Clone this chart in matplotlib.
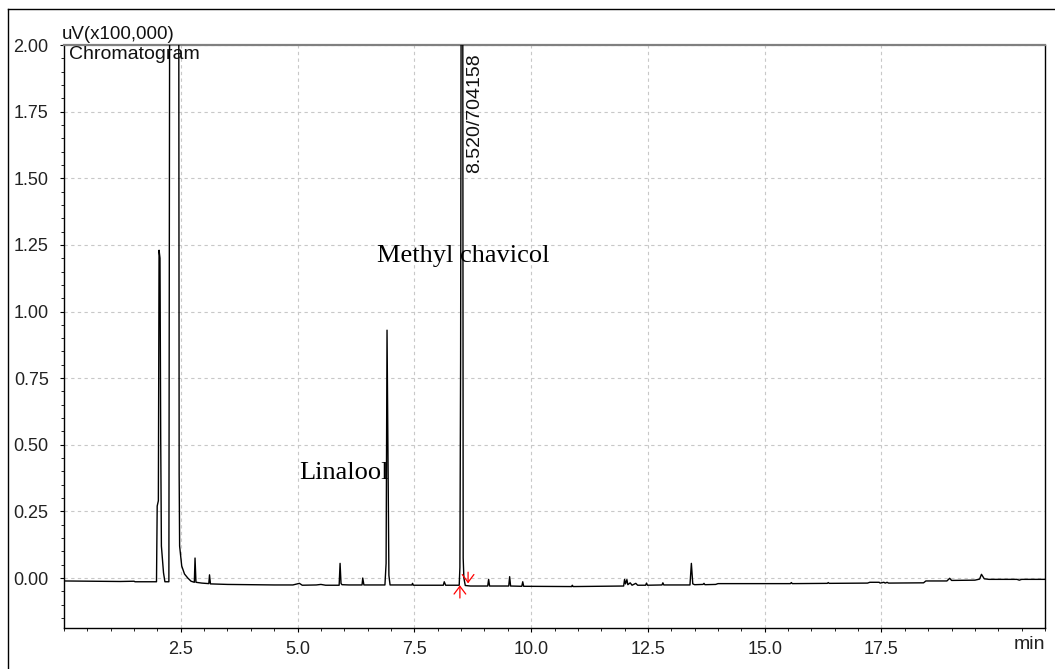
import numpy as np
import matplotlib
matplotlib.use('Agg')
import matplotlib.pyplot as plt
import matplotlib.ticker as mticker
from matplotlib.lines import Line2D

# ── Trace vertices (time in min, signal in uV x 1e5) ──
rt_min = [
    0.00, 0.60, 1.20, 1.50, 1.52, 1.98,
    1.995, 2.02, 2.035, 2.055, 2.07, 2.085, 2.10, 2.13, 2.16,
    2.245, 2.265, 2.455, 2.465, 2.475, 2.52, 2.58, 2.65, 2.72,
    2.79, 2.805, 2.825, 2.95, 3.10, 3.115, 3.135,
    3.50, 4.00, 4.50, 4.90, 5.04, 5.10, 5.40, 5.50, 5.60,
    5.89, 5.91, 5.93, 5.95, 6.10, 6.38, 6.395, 6.42,
    6.87, 6.895, 6.915, 6.94, 6.955, 6.98,
    7.45, 7.46, 7.48, 8.12, 8.14, 8.17,
    8.46, 8.475, 8.49, 8.505, 8.535, 8.545, 8.56, 8.59, 8.70,
    9.07, 9.09, 9.11, 9.52, 9.54, 9.56, 9.80, 9.82, 9.84,
    10.87, 10.88, 10.90, 11.40,
    11.98, 12.00, 12.02, 12.05, 12.07, 12.12, 12.16, 12.24, 12.28,
    12.45, 12.47, 12.49, 12.80, 12.82, 12.84,
    13.40, 13.43, 13.46, 13.50, 13.68, 13.70, 13.72, 13.95, 14.00,
    14.90, 15.55, 15.57, 15.59, 16.34, 16.36, 16.38,
    17.20, 17.25, 17.45, 17.47, 17.55, 17.58, 17.62, 17.65,
    18.40, 18.45, 18.90, 18.96, 19.00, 19.50, 19.60, 19.64, 19.70,
    19.80, 20.40, 20.45, 20.50, 21.00,
]
signal = [
    -0.011, -0.012, -0.013, -0.012, -0.014, -0.014,
    0.27, 0.29, 1.23, 1.20, 0.53, 0.12, 0.085, 0.02, -0.014,
    -0.014, 2.60, 2.60, 0.39, 0.12, 0.045, 0.015, 0.0, -0.012,
    -0.016, 0.075, -0.016, -0.019, -0.021, 0.012, -0.022,
    -0.024, -0.025, -0.026, -0.026, -0.020, -0.027, -0.026, -0.024, -0.027,
    -0.027, 0.055, -0.020, -0.025, -0.026, -0.026, 0.0, -0.026,
    -0.026, 0.055, 0.93, 0.38, 0.01, -0.026,
    -0.026, -0.020, -0.027, -0.027, -0.014, -0.027,
    -0.027, 0.04, 0.81, 2.60, 2.60, 0.075, 0.0, -0.028, -0.030,
    -0.030, -0.005, -0.030, -0.030, 0.005, -0.030, -0.031, -0.014, -0.031,
    -0.032, -0.027, -0.032, -0.031,
    -0.030, -0.005, -0.022, -0.006, -0.025, -0.018, -0.027, -0.020, -0.027,
    -0.027, -0.019, -0.027, -0.026, -0.018, -0.026,
    -0.026, 0.055, -0.022, -0.025, -0.024, -0.020, -0.025, -0.024, -0.021,
    -0.021, -0.021, -0.017, -0.021, -0.020, -0.017, -0.020,
    -0.019, -0.016, -0.016, -0.019, -0.016, -0.019, -0.016, -0.019,
    -0.018, -0.011, -0.011, -0.001, -0.009, -0.008, -0.004, 0.014, -0.003,
    -0.005, -0.005, -0.008, -0.005, -0.005,
]

# integration markers (start / end of the main peak)
mark_start = (8.475, -0.027)
mark_end = (8.65, -0.020)

peak_label = '8.520/704158'
compounds = ['Linalool', 'Methyl chavicol']
compound_pos = [(5.03, 0.37), (6.71, 1.185)]

x_ticks = [2.5, 5.0, 7.5, 10.0, 12.5, 15.0, 17.5]
y_ticks = [0.00, 0.25, 0.50, 0.75, 1.00, 1.25, 1.50, 1.75, 2.00]

plt.rcParams['font.family'] = ['Liberation Sans', 'DejaVu Sans']

fig = plt.figure(figsize=(10.55, 6.69), dpi=100)
ax = fig.add_axes([64 / 1055, 1 - 628 / 669, (1045 - 64) / 1055, (628 - 45) / 669])

ax.plot(rt_min, signal, color='black', linewidth=1.0, zorder=3)

ax.set_xlim(0, 21.0)
ax.set_ylim(-0.1875, 2.0)

ax.set_xticks(x_ticks)
ax.set_xticklabels([f'{v:.1f}' for v in x_ticks])
ax.set_yticks(y_ticks)
ax.set_yticklabels([f'{v:.2f}' for v in y_ticks])
ax.xaxis.set_minor_locator(mticker.MultipleLocator(0.5))
ax.yaxis.set_minor_locator(mticker.MultipleLocator(0.05))
ax.tick_params(axis='both', which='major', direction='out', length=3, width=0.8,
               labelsize=13, labelcolor='#222222')
ax.tick_params(axis='x', which='major', pad=6)
ax.tick_params(axis='y', which='major', pad=8)
ax.tick_params(axis='both', which='minor', direction='out', length=2, width=0.6)

ax.grid(True, which='major', color='#c8c8c8', linestyle=(0, (3, 3)), linewidth=0.8)
ax.set_axisbelow(True)

for side in ['left', 'bottom', 'right']:
    ax.spines[side].set_color('black')
    ax.spines[side].set_linewidth(1.0)
ax.spines['top'].set_color('#808080')
ax.spines['top'].set_linewidth(1.6)

# red start/end markers of the integrated peak
arrow_style = dict(arrowstyle='->, head_length=0.4, head_width=0.3', color='red',
                   lw=0.9, mutation_scale=14, shrinkA=0, shrinkB=0)
ax.annotate('', xy=mark_start, xytext=(mark_start[0], mark_start[1] - 0.048),
            arrowprops=arrow_style, annotation_clip=False, zorder=4)
ax.annotate('', xy=mark_end, xytext=(mark_end[0], mark_end[1] + 0.042),
            arrowprops=arrow_style, annotation_clip=False, zorder=4)

ax.text(8.78, 1.52, peak_label, rotation=90, ha='center', va='bottom', fontsize=14,
        color='#111111')

for name, (tx, ty) in zip(compounds, compound_pos):
    ax.text(tx, ty, name, ha='left', va='baseline', fontsize=19,
            family=['Liberation Serif', 'DejaVu Serif'], color='black', zorder=5)

ax.text(-0.002, 1.003, 'uV(x100,000)', transform=ax.transAxes, ha='left', va='bottom',
        fontsize=13.5, color='#111111')
ax.text(0.005, 0.998, 'Chromatogram', transform=ax.transAxes, ha='left', va='top',
        fontsize=14, color='#111111')
fig.text(1045 / 1055, 1 - 636 / 669, 'min', ha='right', va='top', fontsize=14,
         color='#222222')

# outer frame
fig.add_artist(Line2D([8 / 1055, 1.0], [1 - 9 / 669, 1 - 9 / 669],
                      color='black', linewidth=1.0, transform=fig.transFigure))
fig.add_artist(Line2D([8 / 1055, 8 / 1055], [0.0, 1 - 9 / 669],
                      color='black', linewidth=1.0, transform=fig.transFigure))

fig.savefig('out.png', dpi=100)
